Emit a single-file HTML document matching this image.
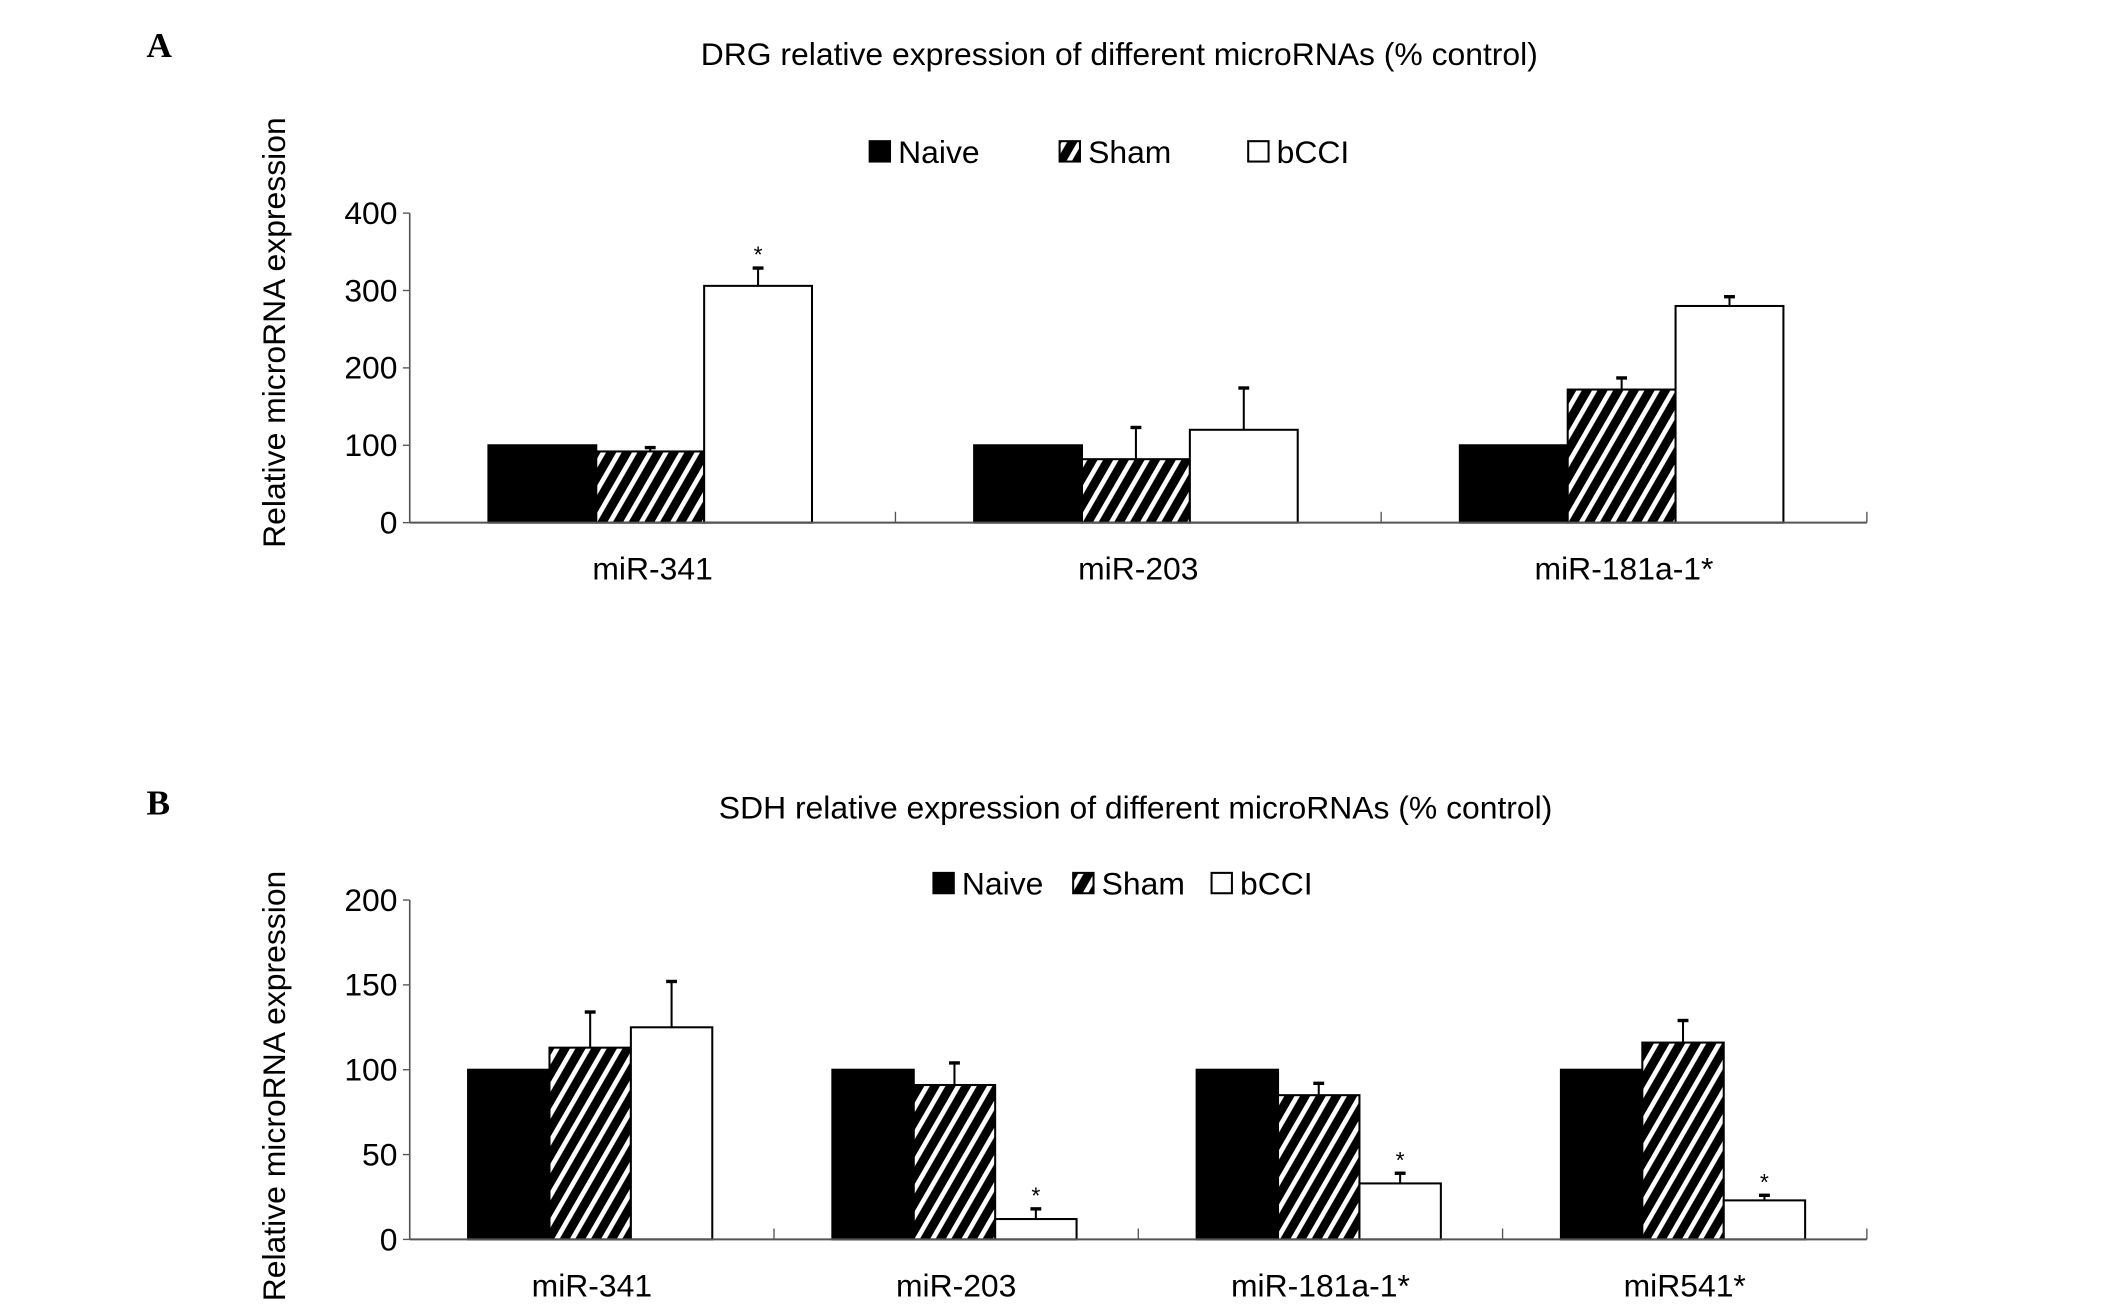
<!DOCTYPE html>
<html><head><meta charset="utf-8"><style>
html,body{margin:0;padding:0;background:#fff;}
svg{display:block;font-family:"Liberation Sans",sans-serif;}
</style></head><body>
<svg id="fig" width="2126" height="1310" viewBox="0 0 1567 965" preserveAspectRatio="none" xmlns="http://www.w3.org/2000/svg">
<defs>
<pattern id="hatch" patternUnits="userSpaceOnUse" width="10" height="10" patternTransform="rotate(30)">
<rect width="10" height="10" fill="#000"/><rect x="0" y="0" width="3.5" height="10" fill="#fff"/>
</pattern>
</defs>
<text x="108" y="42" font-family="Liberation Serif" font-weight="bold" font-size="26">A</text>
<text x="108" y="600" font-family="Liberation Serif" font-weight="bold" font-size="26">B</text>
<g id="chartA"></g>
<g id="chartB"></g>
</svg>
<script>
const NS="http://www.w3.org/2000/svg";
const seriesNames=["Naive","Sham","bCCI"];
const catsA=["miR-341","miR-203","miR-181a-1*"];
const naiveA=[100,100,100];
const shamA=[92,82,172];
const bcciA=[306,120,280];
const shamErrA=[5,41,15];
const bcciErrA=[23,54,12];
const ticksA=[0,100,200,300,400];
const catsB=["miR-341","miR-203","miR-181a-1*","miR541*"];
const naiveB=[100,100,100,100];
const shamB=[113,91,85,116];
const bcciB=[125,12,33,23];
const shamErrB=[21,13,7,13];
const bcciErrB=[27,6,6,3];
const ticksB=[0,50,100,150,200];
const starsA=[false,true,false,false,false,false];
const starsB=[false,false,false,true,false,true,false,true];
const FS=23.5;

function el(parent,tag,attrs,text){const e=document.createElementNS(NS,tag);for(const k in attrs)e.setAttribute(k,attrs[k]);if(text!==undefined)e.textContent=text;parent.appendChild(e);return e;}

function draw(g,cfg){
  const {x0,x1,y0,y1,ymax,cats,series,errs,stars,ticks,title,titleX,titleY,legY,legX,ytitleY,barW,off,catY}=cfg;
  const y=v=>y0-(v/ymax)*(y0-y1);
  const gw=(x1-x0)/cats.length;
  let t=el(g,'text',{x:titleX,y:titleY,'text-anchor':'middle','font-size':FS});t.textContent=title;
  
  const fills=['#000','url(#hatch)','#fff'];
  seriesNames.forEach((n,i)=>{
    const r=el(g,'rect',{x:legX[i],y:legY-8,width:15,height:15,fill:fills[i],stroke:'#000','stroke-width':1.5});
    
    const tx=el(g,'text',{x:legX[i]+21,y:legY+8,'font-size':FS},n);
    
  });
  const yt=el(g,'text',{transform:`translate(210,${ytitleY}) rotate(-90)`,'text-anchor':'middle','font-size':FS},'Relative microRNA expression');
  
  const ya=el(g,'line',{x1:x0,y1:y(0),x2:x0,y2:y(ymax),stroke:'#555','stroke-width':1.2});
  
  ticks.forEach(v=>{
    el(g,'line',{x1:x0-5,y1:y(v),x2:x0,y2:y(v),stroke:'#555','stroke-width':1});
    const tl=el(g,'text',{x:x0-9,y:y(v)+8,'text-anchor':'end','font-size':FS},String(v));
    
  });
  cats.forEach((c,ci)=>{
    const gx=x0+gw*ci;
    el(g,'line',{x1:gx+gw,y1:y(0)-8,x2:gx+gw,y2:y(0),stroke:'#555','stroke-width':1});
    series.forEach((s,si)=>{
      const bx=gx+off+si*barW, v=s[ci];
      const r=el(g,'rect',{x:bx,y:y(v),width:barW,height:y(0)-y(v),fill:fills[si],stroke:'#000','stroke-width':1.5});
      
      if(si>0){
        const e=errs[si-1][ci];const cx=bx+barW/2;
        el(g,'line',{x1:cx,y1:y(v),x2:cx,y2:y(v+e),stroke:'#000','stroke-width':1.5});
        el(g,'line',{x1:cx-4,y1:y(v+e),x2:cx+4,y2:y(v+e),stroke:'#000','stroke-width':2.5});
        if(stars[ci*(series.length-1)+(si-1)]){
          const st=el(g,'text',{x:cx,y:y(v+e)-4,'text-anchor':'middle','font-size':17},'*');
          
        }
      }
    });
    const cl=el(g,'text',{x:gx+gw/2,y:catY,'text-anchor':'middle','font-size':FS},c);
    
  });
  const xa=el(g,'line',{x1:x0,y1:y(0),x2:x1,y2:y(0),stroke:'#555','stroke-width':1.5});
  
}
draw(document.getElementById('chartA'),{x0:302,x1:1376,y0:385,y1:157,ymax:400,cats:catsA,series:[naiveA,shamA,bcciA],errs:[shamErrA,bcciErrA],stars:starsA,ticks:ticksA,title:'DRG relative expression of different microRNAs (% control)',titleX:825,titleY:48,legY:112,legX:[641,781,920],ytitleY:245,barW:79.5,off:58,catY:427});
draw(document.getElementById('chartB'),{x0:302,x1:1376,y0:913,y1:663,ymax:200,cats:catsB,series:[naiveB,shamB,bcciB],errs:[shamErrB,bcciErrB],stars:starsB,ticks:ticksB,title:'SDH relative expression of different microRNAs (% control)',titleX:837,titleY:603,legY:651,legX:[688,791,893],ytitleY:800,barW:60,off:43,catY:955});
</script>
</body></html>
